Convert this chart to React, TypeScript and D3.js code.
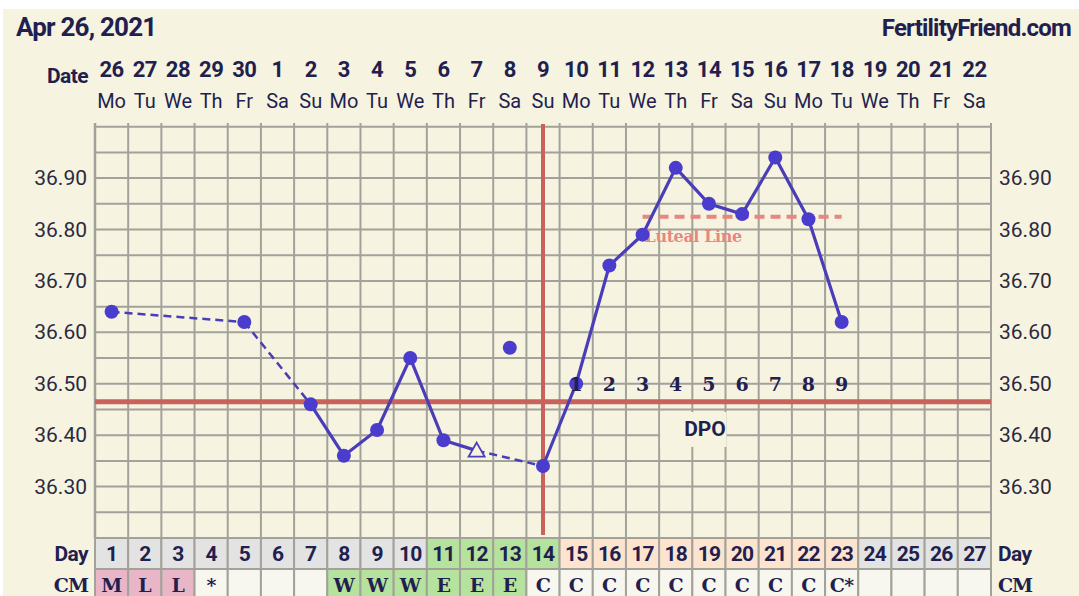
import React from "react";
import * as d3 from "d3";

const dateLabels = ["26","27","28","29","30","1","2","3","4","5","6","7","8","9","10","11","12","13","14","15","16","17","18","19","20","21","22"];
const weekdayLabels = ["Mo","Tu","We","Th","Fr","Sa","Su","Mo","Tu","We","Th","Fr","Sa","Su","Mo","Tu","We","Th","Fr","Sa","Su","Mo","Tu","We","Th","Fr","Sa"];
const cycleDays = [1,2,3,4,5,6,7,8,9,10,11,12,13,14,15,16,17,18,19,20,21,22,23,24,25,26,27];
const dayPhase = ["n","n","n","n","n","n","n","n","n","n","f","f","f","f","l","l","l","l","l","l","l","l","l","n","n","n","n"];
const cmLabels = ["M","L","L","*","","","","W","W","W","E","E","E","C","C","C","C","C","C","C","C","C","C*","","","",""];
const cmPhase = ["p","p","p","w","w","w","w","g","g","g","g","g","g","w","w","w","w","w","w","w","w","w","w","w","w","w","w"];

const tempDays = [1,5,7,8,9,10,11,12,13,14,15,16,17,18,19,20,21,22,23];
const tempValues = [36.64,36.62,36.46,36.36,36.41,36.55,36.39,36.37,36.57,36.34,36.50,36.73,36.79,36.92,36.85,36.83,36.94,36.82,36.62];
const solidRuns = [[7,8,9,10,11,12],[14,15,16,17,18,19,20,21,22,23]];
const dashedRuns = [[1,5],[5,7],[12,14]];
const openDays = [12];
const yTicks = [36.3,36.4,36.5,36.6,36.7,36.8,36.9];
const coverline = 36.465;
const ovulationDay = 14;
const lutealLevel = 36.825;
const lutealStart = 17;
const lutealEnd = 23;
const dpoDays = [15,16,17,18,19,20,21,22,23];
const dpoLabels = ["1","2","3","4","5","6","7","8","9"];

const INK = "#221f4f";
const GRID = "#a3a29a";
const BG = "#f6f3e1";
const LINE = "#4a3db8";
const DOT = "#4a3ccc";
const RED = "#c9615d";
const SALMON = "#e8877f";
const phaseFill: Record<string, string> = { n: "#e3e3e3", f: "#b5e29c", l: "#fde4cf", p: "#e8b6c6", w: "#f8f7ef", g: "#b5e29c" };

export default function App() {
  const W = 1079, H = 596;
  const x = d3.scaleLinear().domain([0, 27]).range([95, 991]);
  const cx = (d: number) => x(d - 0.5);
  const y = d3.scaleLinear().domain([36.2, 37.0]).range([538, 126.7]);
  const colW = x(1) - x(0);
  const tempOf = (d: number) => tempValues[tempDays.indexOf(d)];
  const line = d3.line<number>().x((d) => cx(d)).y((d) => y(tempOf(d)));
  const hLines = d3.range(36.25, 37.0001, 0.05);
  const dayTop = 538, dayH = 31, cmTop = 569, cmH = 33;
  const sans = "Roboto, 'Noto Sans', sans-serif";
  const serif = "'DejaVu Serif', 'Liberation Serif', serif";

  return (
    <svg width={W} height={H} style={{ position: "absolute", left: 0, top: 0 }}>
      <rect x={0} y={0} width={W} height={H} fill="#ffffff" />
      <rect x={3} y={9} width={W - 3} height={H - 9} fill={BG} />
      <text x={16} y={36} fontFamily={sans} fontWeight={700} fontSize={26} fill={INK} letterSpacing={-0.8}>Apr 26, 2021</text>
      <text x={1071} y={36} textAnchor="end" fontFamily={sans} fontWeight={700} fontSize={24} fill={INK} letterSpacing={-0.8}>FertilityFriend.com</text>
      <text x={88} y={83} textAnchor="end" fontFamily={sans} fontWeight={700} fontSize={21} fill={INK} letterSpacing={-0.6}>Date</text>
      {dateLabels.map((t, i) => (
        <text key={"d" + i} x={cx(i + 1)} y={77} textAnchor="middle" fontFamily={sans} fontWeight={700} fontSize={22} fill={INK} letterSpacing={-0.5}>{t}</text>
      ))}
      {weekdayLabels.map((t, i) => (
        <text key={"w" + i} x={cx(i + 1)} y={108} textAnchor="middle" fontFamily={sans} fontSize={20} fill={INK}>{t}</text>
      ))}
      {/* grid */}
      {hLines.map((v, i) => (
        <line key={"h" + i} x1={x(0)} x2={x(27)} y1={y(v)} y2={y(v)} stroke={GRID} strokeWidth={2} />
      ))}
      {d3.range(0, 28).map((i) => (
        <line key={"v" + i} x1={x(i)} x2={x(i)} y1={123} y2={dayTop} stroke={GRID} strokeWidth={i === 0 ? 2.5 : 2} />
      ))}
      {yTicks.map((v) => (
        <g key={"yt" + v}>
          <text x={87} y={y(v) + 7} textAnchor="end" fontFamily={sans} fontSize={21} fill="#2b2a3e">{v.toFixed(2)}</text>
          <text x={999} y={y(v) + 7} textAnchor="start" fontFamily={sans} fontSize={21} fill="#2b2a3e">{v.toFixed(2)}</text>
        </g>
      ))}
      {/* DPO box */}
      <rect x={x(17) + 1} y={412} width={x(19) - x(17)} height={35} fill={BG} />
      <text x={705} y={436} textAnchor="middle" fontFamily={sans} fontWeight={700} fontSize={21} fill={INK}>DPO</text>
      {/* luteal */}
      <line x1={cx(lutealStart)} x2={cx(lutealEnd)} y1={y(lutealLevel)} y2={y(lutealLevel)} stroke={SALMON} strokeWidth={4} strokeDasharray="10 6" />
      <text x={cx(lutealStart) + 2} y={242} fontFamily={serif} fontWeight={700} fontSize={16} fill={SALMON} letterSpacing={-0.4}>Luteal Line</text>
      {/* coverline & ovulation */}
      <line x1={x(0)} x2={x(27)} y1={y(coverline)} y2={y(coverline)} stroke={RED} strokeWidth={5} />
      <line x1={cx(ovulationDay)} x2={cx(ovulationDay)} y1={124} y2={535} stroke={RED} strokeWidth={4} />
      {/* temp lines */}
      {dashedRuns.map((r, i) => (
        <path key={"dr" + i} d={line(r) || ""} fill="none" stroke={LINE} strokeWidth={2.5} strokeDasharray="8 5" />
      ))}
      {solidRuns.map((r, i) => (
        <path key={"sr" + i} d={line(r) || ""} fill="none" stroke={LINE} strokeWidth={3.2} />
      ))}
      {tempDays.map((d, i) =>
        openDays.includes(d) ? (
          <path key={"p" + d} d={`M${cx(d)},${y(tempValues[i]) - 8} L${cx(d) + 8},${y(tempValues[i]) + 6} L${cx(d) - 8},${y(tempValues[i]) + 6} Z`} fill={BG} stroke={LINE} strokeWidth={1.8} />
        ) : (
          <circle key={"p" + d} cx={cx(d)} cy={y(tempValues[i])} r={7} fill={DOT} />
        )
      )}
      {dpoDays.map((d, i) => (
        <text key={"dpo" + d} x={cx(d)} y={391} textAnchor="middle" fontFamily={serif} fontWeight={700} fontSize={19} fill={INK}>{dpoLabels[i]}</text>
      ))}
      {/* day row */}
      {cycleDays.map((d, i) => (
        <g key={"day" + d}>
          <rect x={x(i)} y={dayTop} width={colW} height={dayH} fill={phaseFill[dayPhase[i]]} stroke={GRID} strokeWidth={2} />
          <text x={cx(d)} y={dayTop + 23} textAnchor="middle" fontFamily={sans} fontWeight={700} fontSize={21} fill={INK} letterSpacing={-0.8}>{d}</text>
          <rect x={x(i)} y={cmTop} width={colW} height={cmH} fill={phaseFill[cmPhase[i]]} stroke={GRID} strokeWidth={2} />
          <text x={cx(d)} y={cmTop + 23} textAnchor="middle" fontFamily={serif} fontWeight={700} fontSize={19} fill={INK} letterSpacing={-0.5}>{cmLabels[i]}</text>
        </g>
      ))}
      <text x={88} y={561} textAnchor="end" fontFamily={sans} fontWeight={700} fontSize={21} fill={INK} letterSpacing={-0.6}>Day</text>
      <text x={88} y={592} textAnchor="end" fontFamily={serif} fontWeight={700} fontSize={19} fill={INK} letterSpacing={-1}>CM</text>
      <text x={998} y={561} fontFamily={sans} fontWeight={700} fontSize={21} fill={INK} letterSpacing={-0.6}>Day</text>
      <text x={998} y={592} fontFamily={serif} fontWeight={700} fontSize={19} fill={INK} letterSpacing={-1}>CM</text>
    </svg>
  );
}
